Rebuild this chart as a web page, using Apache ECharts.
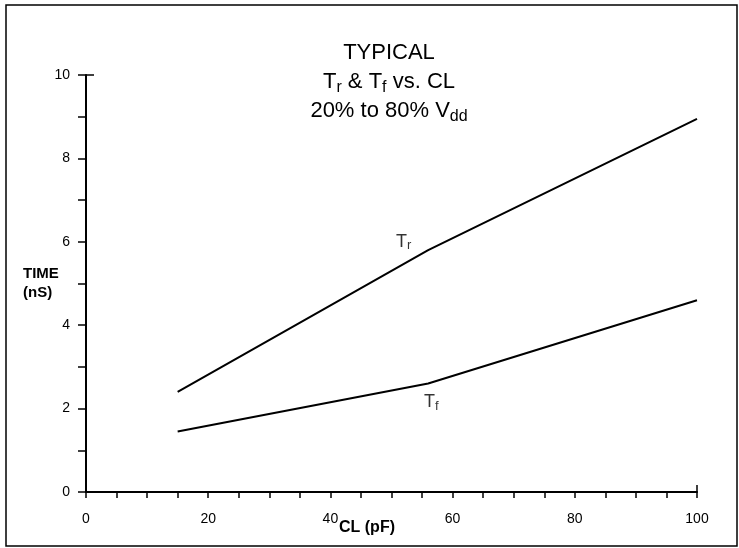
<!DOCTYPE html>
<html>
<head>
<meta charset="utf-8">
<script src="https://cdn.jsdelivr.net/npm/echarts@6/dist/echarts.min.js"></script>
<style>html,body{margin:0;padding:0;background:#fff;}#c{width:739px;height:548px;}</style>
</head>
<body>
<div id="c"></div>
<script>
var trData = [[15, 2.4], [56, 5.8], [100, 8.95]];
var tfData = [[15, 1.45], [56, 2.6], [100, 4.6]];
var curveLabels = [
  { value: [52, 6.0], text: 'T{s|r}' },
  { value: [56.5, 2.15], text: 'T{s|f}' }
];
var xTicks = [0, 20, 40, 60, 80, 100];
var yTicks = [0, 2, 4, 6, 8, 10];

var chart = echarts.init(document.getElementById('c'));
var font = 'Liberation Sans, Arial, sans-serif';
var blackTick = { color: '#000', width: 1.5 };
chart.setOption({
  animation: false,
  backgroundColor: '#fff',
  title: {
    text: 'TYPICAL\nT{s|r} & T{s|f} vs. CL\n20% to 80% V{s|dd}',
    left: 384, top: 33, textAlign: 'center',
    textStyle: {
      fontFamily: font, fontSize: 22, fontWeight: 'normal', color: '#000', lineHeight: 29, align: 'center',
      rich: { s: { fontFamily: font, fontSize: 16, color: '#000', verticalAlign: 'bottom', lineHeight: 25 } }
    }
  },
  graphic: [{
    type: 'rect', shape: { x: 6, y: 5, width: 731, height: 541 },
    style: { fill: 'none', stroke: '#000', lineWidth: 1.5 }, silent: true
  }],
  grid: { left: 86, right: 42, top: 75, bottom: 56 },
  xAxis: [{
    type: 'value', min: 0, max: 100, interval: 20,
    name: 'CL (pF)', nameLocation: 'middle', nameGap: 28, nameMoveOverlap: false,
    nameTextStyle: { fontFamily: font, fontSize: 16, fontWeight: 'bold', color: '#000', padding: [0, 49, 0, 0] },
    axisLine: { lineStyle: { color: '#000', width: 2 } },
    axisTick: { show: true, length: 6, lineStyle: blackTick },
    minorTick: { show: true, splitNumber: 4, length: 6, lineStyle: blackTick },
    splitLine: { show: false },
    axisLabel: { fontFamily: font, fontSize: 14, color: '#000', margin: 20,
      formatter: function (v) { return xTicks.indexOf(v) >= 0 ? String(v) : ''; } }
  }, {
    type: 'value', min: 0, max: 100, interval: 100, position: 'bottom',
    axisLine: { show: false }, axisLabel: { show: false }, splitLine: { show: false },
    axisTick: { show: true, inside: true, length: 7, lineStyle: blackTick }
  }],
  yAxis: [{
    type: 'value', min: 0, max: 10, interval: 2,
    name: 'TIME\n(nS)', nameLocation: 'middle', nameRotate: 0, nameGap: 63, nameMoveOverlap: false,
    nameTextStyle: { fontFamily: font, fontSize: 15, fontWeight: 'bold', color: '#000', align: 'left', lineHeight: 19, padding: [10, 0, 0, 0] },
    axisLine: { lineStyle: { color: '#000', width: 2 } },
    axisTick: { show: true, length: 8, lineStyle: blackTick },
    minorTick: { show: true, splitNumber: 2, length: 8, lineStyle: blackTick },
    splitLine: { show: false },
    axisLabel: { fontFamily: font, fontSize: 14, color: '#000', margin: 16,
      formatter: function (v) { return yTicks.indexOf(v) >= 0 ? String(v) : ''; } }
  }, {
    type: 'value', min: 0, max: 10, interval: 10, position: 'left',
    axisLine: { show: false }, axisLabel: { show: false }, splitLine: { show: false },
    axisTick: { show: true, inside: true, length: 8, lineStyle: blackTick }
  }],
  series: [
    { name: 'Tr', type: 'line', data: trData, symbol: 'none', lineStyle: { color: '#000', width: 2 } },
    { name: 'Tf', type: 'line', data: tfData, symbol: 'none', lineStyle: { color: '#000', width: 2 } },
    { name: 'labels', type: 'scatter', symbolSize: 0,
      data: curveLabels.map(function (d) { return { value: d.value, labelText: d.text }; }),
      label: { show: true, position: 'inside',
        formatter: function (p) { return p.data.labelText; },
        fontFamily: font, fontSize: 18, color: '#000',
        rich: { s: { fontFamily: font, fontSize: 13, color: '#000', verticalAlign: 'bottom', lineHeight: 21 } } } }
  ]
});
</script>
</body>
</html>
